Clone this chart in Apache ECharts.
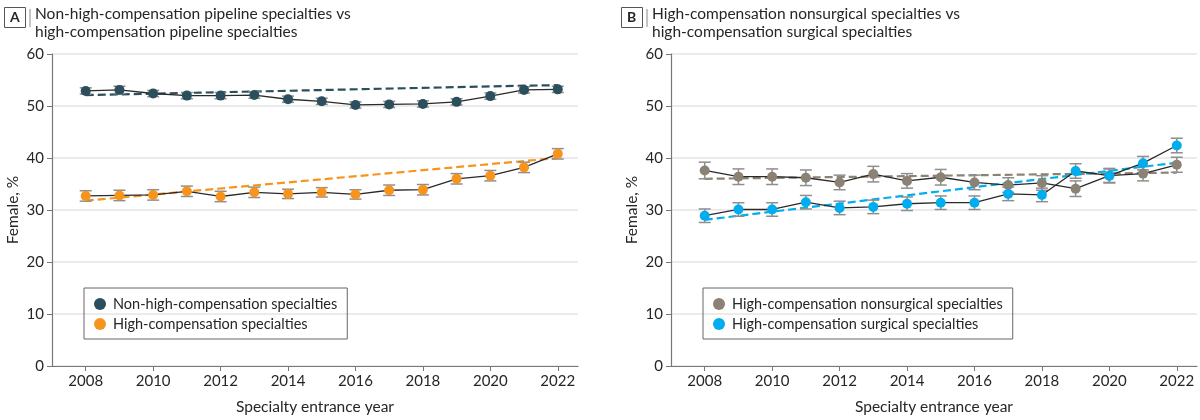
<!DOCTYPE html>
<html>
<head>
<meta charset="utf-8">
<script src="https://cdn.jsdelivr.net/npm/echarts@6/dist/echarts.min.js"></script>
<style>
html,body{margin:0;padding:0;background:#fff;}
#chart{width:1200px;height:420px;}
</style>
</head>
<body>
<div id="chart"></div>
<script>
// ---------- data ----------
const years = [2008, 2009, 2010, 2011, 2012, 2013, 2014, 2015, 2016, 2017, 2018, 2019, 2020, 2021, 2022];
const xTickLabels = [2008, 2010, 2012, 2014, 2016, 2018, 2020, 2022];
const yTickLabels = [0, 10, 20, 30, 40, 50, 60];

// Panel A
const nonHighComp    = [52.9, 53.1, 52.4, 52.0, 52.0, 52.1, 51.3, 50.9, 50.2, 50.3, 50.4, 50.8, 51.9, 53.1, 53.2];
const nonHighCompErr = [0.6, 0.7, 0.6, 0.6, 0.6, 0.6, 0.6, 0.6, 0.6, 0.6, 0.6, 0.6, 0.6, 0.6, 0.6];
const highComp       = [32.7, 32.8, 32.9, 33.6, 32.6, 33.4, 33.1, 33.4, 33.0, 33.8, 33.9, 36.0, 36.6, 38.2, 40.8];
const highCompErr    = [1.0, 1.0, 1.0, 1.0, 1.0, 1.0, 0.9, 0.9, 0.9, 1.0, 1.0, 1.0, 1.0, 1.0, 1.0];
const nonHighTrendYears = [2008, 2021, 2022];
const nonHighTrend      = [52.1, 53.9, 54.0];
const highTrendYears    = [2008, 2022];
const highTrend         = [31.8, 40.0];

// Panel B
const nonsurgical    = [37.6, 36.4, 36.4, 36.2, 35.3, 36.9, 35.6, 36.3, 35.3, 34.8, 35.2, 34.1, 36.6, 37.0, 38.7];
const nonsurgicalErr = [1.6, 1.5, 1.5, 1.5, 1.4, 1.5, 1.4, 1.5, 1.4, 1.4, 1.4, 1.5, 1.4, 1.4, 1.45];
const surgical       = [28.9, 30.1, 30.1, 31.5, 30.4, 30.6, 31.2, 31.4, 31.4, 33.1, 32.9, 37.5, 36.6, 39.0, 42.4];
const surgicalErr    = [1.3, 1.3, 1.3, 1.3, 1.3, 1.3, 1.3, 1.3, 1.3, 1.3, 1.3, 1.4, 1.3, 1.3, 1.4];
const nonsurgTrendYears = [2008, 2022];
const nonsurgTrend      = [36.0, 37.2];
const surgTrendYears    = [2008, 2022];
const surgTrend         = [28.1, 39.1];

const names = {
  a1: 'Non-high-compensation specialties',
  a2: 'High-compensation specialties',
  b1: 'High-compensation nonsurgical specialties',
  b2: 'High-compensation surgical specialties'
};

// ---------- styling ----------
const FONT = 'Lato, "Noto Sans", sans-serif';
const C = { teal: '#2b4f5d', orange: '#f7941d', taupe: '#8b8275', cyan: '#00aeef' };
const TXT = '#262626';

function pairs(xs, ys) { return xs.map((x, i) => [x, ys[i]]); }
function errData(vals, errs) { return years.map((y, i) => [y, vals[i] - errs[i], vals[i] + errs[i]]); }

function errRender(params, api) {
  const x = api.value(0);
  const p1 = api.coord([x, api.value(1)]);
  const p2 = api.coord([x, api.value(2)]);
  const w = 6;
  const st = { stroke: '#8e8e8e', lineWidth: 1.5 };
  return {
    type: 'group',
    children: [
      { type: 'line', shape: { x1: p1[0], y1: p1[1], x2: p2[0], y2: p2[1] }, style: st },
      { type: 'line', shape: { x1: p1[0] - w, y1: p1[1], x2: p1[0] + w, y2: p1[1] }, style: st },
      { type: 'line', shape: { x1: p2[0] - w, y1: p2[1], x2: p2[0] + w, y2: p2[1] }, style: st }
    ]
  };
}

function xAxis(gi) {
  return {
    type: 'value', gridIndex: gi, min: 2007, max: 2022.6,
    name: 'Specialty entrance year', nameLocation: 'middle', nameGap: 33,
    nameTextStyle: { fontFamily: FONT, fontSize: 15.5, color: TXT },
    axisLine: { show: true, lineStyle: { color: '#777', width: 1.2 } },
    axisTick: { show: true, length: 5, customValues: xTickLabels, lineStyle: { color: '#777' } },
    axisLabel: { customValues: xTickLabels, formatter: v => String(v),
      fontFamily: FONT, fontSize: 15, color: TXT, margin: 8 },
    splitLine: { show: false }
  };
}
function yAxis(gi) {
  return {
    type: 'value', gridIndex: gi, min: 0, max: 60, interval: 10,
    name: 'Female, %', nameLocation: 'middle', nameGap: 31,
    nameTextStyle: { fontFamily: FONT, fontSize: 15.5, color: TXT },
    axisLine: { show: true, lineStyle: { color: '#777', width: 1.2 } },
    axisTick: { show: true, length: 5, lineStyle: { color: '#777' } },
    axisLabel: { fontFamily: FONT, fontSize: 15, color: TXT, margin: 8,
      customValues: yTickLabels, formatter: v => String(v) },
    splitLine: { show: true, lineStyle: { color: '#e4e4e4', width: 1.5 } }
  };
}

function observed(name, vals, color, gi) {
  return {
    name, type: 'line', xAxisIndex: gi, yAxisIndex: gi, z: 4,
    data: pairs(years, vals), symbol: 'circle', symbolSize: 10,
    itemStyle: { color, borderWidth: 0 },
    lineStyle: { color: '#2a2a2a', width: 1.3 },
    silent: true, animation: false
  };
}
function trend(name, xs, vals, color, gi) {
  return {
    name, type: 'line', xAxisIndex: gi, yAxisIndex: gi, z: 2,
    data: pairs(xs, vals), symbol: 'none',
    lineStyle: { color, width: 2.2, type: [8, 4] },
    silent: true, animation: false
  };
}
function errs(name, vals, e, gi) {
  return {
    name, type: 'custom', xAxisIndex: gi, yAxisIndex: gi, z: 3,
    renderItem: errRender, data: errData(vals, e),
    encode: { x: 0, y: [1, 2] }, silent: true, animation: false
  };
}
function legend(left, items) {
  return {
    left, top: 288, orient: 'vertical', selectedMode: false,
    borderColor: '#666', borderWidth: 1, borderRadius: 0,
    padding: [8, 10, 7, 10], itemGap: 4, itemWidth: 12, itemHeight: 12,
    textStyle: { fontFamily: FONT, fontSize: 14.5, color: TXT, lineHeight: 16, padding: [0, 0, 0, 2] },
    itemStyle: { borderWidth: 0 },
    data: items.map(([n, c]) => ({ name: n, icon: 'circle', itemStyle: { color: c } }))
  };
}
function header(x, letter, lines) {
  return [
    { type: 'rect', left: x, top: 7, shape: { width: 21, height: 20 },
      style: { fill: '#fff', stroke: '#555', lineWidth: 1 } },
    { type: 'text', left: x + 6, top: 10, style: { text: letter, fontFamily: FONT, fontSize: 14, fontWeight: 'bold', fill: TXT } },
    { type: 'line', shape: { x1: x + 26, y1: 9, x2: x + 26, y2: 27 }, style: { stroke: '#888', lineWidth: 1 } },
    { type: 'text', left: x + 31, top: 5, style: { text: lines, fontFamily: FONT, fontSize: 15.5, lineHeight: 18, fill: TXT } }
  ];
}

const option = {
  backgroundColor: '#fff',
  animation: false,
  grid: [
    { left: 52, top: 54, width: 526, height: 314 },
    { left: 671, top: 54, width: 526, height: 314 }
  ],
  xAxis: [xAxis(0), xAxis(1)],
  yAxis: [yAxis(0), yAxis(1)],
  legend: [
    legend(84, [[names.a1, C.teal], [names.a2, C.orange]]),
    legend(703, [[names.b1, C.taupe], [names.b2, C.cyan]])
  ],
  graphic: [
    ...header(4, 'A', 'Non-high-compensation pipeline specialties vs\nhigh-compensation pipeline specialties'),
    ...header(621, 'B', 'High-compensation nonsurgical specialties vs\nhigh-compensation surgical specialties')
  ],
  series: [
    trend('trendA1', nonHighTrendYears, nonHighTrend, C.teal, 0),
    trend('trendA2', highTrendYears, highTrend, C.orange, 0),
    errs('errA1', nonHighComp, nonHighCompErr, 0),
    errs('errA2', highComp, highCompErr, 0),
    observed(names.a1, nonHighComp, C.teal, 0),
    observed(names.a2, highComp, C.orange, 0),
    trend('trendB1', nonsurgTrendYears, nonsurgTrend, C.taupe, 1),
    trend('trendB2', surgTrendYears, surgTrend, C.cyan, 1),
    errs('errB1', nonsurgical, nonsurgicalErr, 1),
    errs('errB2', surgical, surgicalErr, 1),
    observed(names.b1, nonsurgical, C.taupe, 1),
    observed(names.b2, surgical, C.cyan, 1)
  ]
};
const chart = echarts.init(document.getElementById('chart'), null, { renderer: 'canvas' });
chart.setOption(option);
</script>
</body>
</html>
